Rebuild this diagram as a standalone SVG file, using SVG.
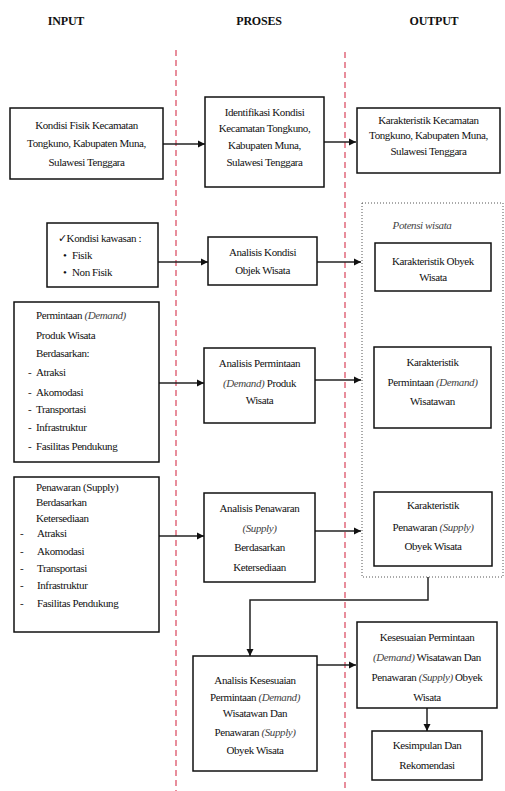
<svg xmlns="http://www.w3.org/2000/svg" width="505" height="791" viewBox="0 0 505 791" font-family="'Liberation Serif','Times New Roman',serif">
<style>
text{font-family:"Liberation Serif","Times New Roman",serif;font-size:11px;fill:#111;letter-spacing:-0.4px}
.h{font-weight:bold;font-size:12px;text-anchor:middle;letter-spacing:-0.2px}
.c{text-anchor:middle}
.i{font-style:italic;fill:#444}
.box{fill:#fff;stroke:#111;stroke-width:1.5}
.con{fill:none;stroke:#222;stroke-width:1.5}
.div{stroke:#d9435a;stroke-width:1.2;stroke-dasharray:6 4;fill:none}
.dot{fill:none;stroke:#555;stroke-width:1;stroke-dasharray:1 2}
</style>
<defs>
<marker id="ah" viewBox="0 0 10 10" refX="10" refY="5" markerWidth="5" markerHeight="5" orient="auto">
<path d="M0,0 L10,5 L0,10 z" fill="#111"/>
</marker>
</defs>
<rect width="505" height="791" fill="#fff"/>

<g id="headers">
<text class="h" x="66" y="25">INPUT</text>
<text class="h" x="259" y="25">PROSES</text>
<text class="h" x="434" y="25">OUTPUT</text>
</g>

<g id="dividers">
<line class="div" x1="176" y1="50" x2="176" y2="791"/>
<line class="div" x1="345" y1="52" x2="345" y2="791"/>
</g>

<g id="potensi">
<rect class="dot" x="362" y="203" width="141" height="374"/>
<text class="c i" x="422" y="229">Potensi wisata</text>
</g>

<g id="connectors">
<line class="con" x1="163" y1="144" x2="205" y2="144" marker-end="url(#ah)"/>
<line class="con" x1="324" y1="142" x2="356" y2="142" marker-end="url(#ah)"/>
<line class="con" x1="158" y1="262" x2="208" y2="262" marker-end="url(#ah)"/>
<line class="con" x1="317" y1="262" x2="361" y2="262" marker-end="url(#ah)"/>
<line class="con" x1="159" y1="383" x2="204" y2="383" marker-end="url(#ah)"/>
<line class="con" x1="315" y1="380" x2="361" y2="380" marker-end="url(#ah)"/>
<line class="con" x1="159" y1="536" x2="204" y2="536" marker-end="url(#ah)"/>
<line class="con" x1="315" y1="531" x2="361" y2="531" marker-end="url(#ah)"/>
<polyline class="con" points="428,577 428,600 250,600 250,656" marker-end="url(#ah)"/>
<line class="con" x1="317" y1="665" x2="356" y2="665" marker-end="url(#ah)"/>
<line class="con" x1="427" y1="708" x2="427" y2="731" marker-end="url(#ah)"/>
</g>

<g id="in1">
<rect class="box" x="10" y="108" width="153" height="71"/>
<text class="c" x="86.5" y="129">Kondisi Fisik Kecamatan</text>
<text class="c" x="86.5" y="147">Tongkuno, Kabupaten Muna,</text>
<text class="c" x="86.5" y="166">Sulawesi Tenggara</text>
</g>

<g id="pr1">
<rect class="box" x="205" y="97" width="119" height="90"/>
<text class="c" x="264.5" y="116">Identifikasi Kondisi</text>
<text class="c" x="264.5" y="132">Kecamatan Tongkuno,</text>
<text class="c" x="264.5" y="149">Kabupaten Muna,</text>
<text class="c" x="264.5" y="166">Sulawesi Tenggara</text>
</g>

<g id="out1">
<rect class="box" x="357" y="108" width="143" height="65"/>
<text class="c" x="428.5" y="124">Karakteristik Kecamatan</text>
<text class="c" x="428.5" y="139">Tongkuno, Kabupaten Muna,</text>
<text class="c" x="428.5" y="155">Sulawesi Tenggara</text>
</g>

<g id="in2">
<rect class="box" x="47" y="223" width="111" height="64"/>
<text x="58" y="242">✓Kondisi kawasan :</text>
<text x="63" y="259">•</text><text x="72" y="259">Fisik</text>
<text x="63" y="276">•</text><text x="72" y="276">Non Fisik</text>
</g>

<g id="pr2">
<rect class="box" x="208" y="237" width="109" height="48"/>
<text class="c" x="262.5" y="256">Analisis Kondisi</text>
<text class="c" x="262.5" y="274">Objek Wisata</text>
</g>

<g id="out2">
<rect class="box" x="375" y="243" width="116" height="48"/>
<text class="c" x="433" y="265">Karakteristik Obyek</text>
<text class="c" x="433" y="281">Wisata</text>
</g>

<g id="in3">
<rect class="box" x="14" y="302" width="145" height="160"/>
<text x="36" y="319">Permintaan <tspan class="i">(Demand)</tspan></text>
<text x="36" y="339">Produk Wisata</text>
<text x="36" y="357">Berdasarkan:</text>
<text x="28" y="376">-</text><text x="36" y="376">Atraksi</text>
<text x="28" y="396">-</text><text x="36" y="396">Akomodasi</text>
<text x="28" y="413">-</text><text x="36" y="413">Transportasi</text>
<text x="28" y="431">-</text><text x="36" y="431">Infrastruktur</text>
<text x="28" y="450">-</text><text x="36" y="450">Fasilitas Pendukung</text>
</g>

<g id="pr3">
<rect class="box" x="204" y="348" width="111" height="75"/>
<text class="c" x="259.5" y="367">Analisis Permintaan</text>
<text class="c" x="259.5" y="387"><tspan class="i">(Demand)</tspan> Produk</text>
<text class="c" x="259.5" y="404">Wisata</text>
</g>

<g id="out3">
<rect class="box" x="374" y="347" width="117" height="81"/>
<text class="c" x="432.5" y="366">Karakteristik</text>
<text class="c" x="432.5" y="386">Permintaan <tspan class="i">(Demand)</tspan></text>
<text class="c" x="432.5" y="405">Wisatawan</text>
</g>

<g id="in4">
<rect class="box" x="14" y="477" width="145" height="155"/>
<text x="36" y="491">Penawaran (Supply)</text>
<text x="36" y="506">Berdasarkan</text>
<text x="36" y="522">Ketersediaan</text>
<text x="20" y="537">-</text><text x="37" y="537">Atraksi</text>
<text x="20" y="555">-</text><text x="37" y="555">Akomodasi</text>
<text x="20" y="572">-</text><text x="37" y="572">Transportasi</text>
<text x="20" y="589">-</text><text x="37" y="589">Infrastruktur</text>
<text x="20" y="607">-</text><text x="37" y="607">Fasilitas Pendukung</text>
</g>

<g id="pr4">
<rect class="box" x="204" y="493" width="111" height="89"/>
<text class="c" x="259.5" y="512">Analisis Penawaran</text>
<text class="c i" x="259.5" y="532">(Supply)</text>
<text class="c" x="259.5" y="551">Berdasarkan</text>
<text class="c" x="259.5" y="571">Ketersediaan</text>
</g>

<g id="out4">
<rect class="box" x="374" y="492" width="118" height="74"/>
<text class="c" x="433" y="509">Karakteristik</text>
<text class="c" x="433" y="531">Penawaran <tspan class="i">(Supply)</tspan></text>
<text class="c" x="433" y="550">Obyek Wisata</text>
</g>

<g id="pr5">
<rect class="box" x="193" y="656" width="124" height="115"/>
<text class="c" x="255" y="684">Analisis Kesesuaian</text>
<text class="c" x="255" y="701">Permintaan <tspan class="i">(Demand)</tspan></text>
<text class="c" x="255" y="717">Wisatawan Dan</text>
<text class="c" x="255" y="736">Penawaran <tspan class="i">(Supply)</tspan></text>
<text class="c" x="255" y="754">Obyek Wisata</text>
</g>

<g id="out5">
<rect class="box" x="357" y="622" width="140" height="86"/>
<text class="c" x="427" y="641">Kesesuaian Permintaan</text>
<text class="c" x="427" y="661"><tspan class="i">(Demand)</tspan> Wisatawan Dan</text>
<text class="c" x="427" y="681">Penawaran <tspan class="i">(Supply)</tspan> Obyek</text>
<text class="c" x="427" y="701">Wisata</text>
</g>

<g id="out6">
<rect class="box" x="372" y="731" width="110" height="49"/>
<text class="c" x="427" y="749">Kesimpulan Dan</text>
<text class="c" x="427" y="769">Rekomendasi</text>
</g>
</svg>
